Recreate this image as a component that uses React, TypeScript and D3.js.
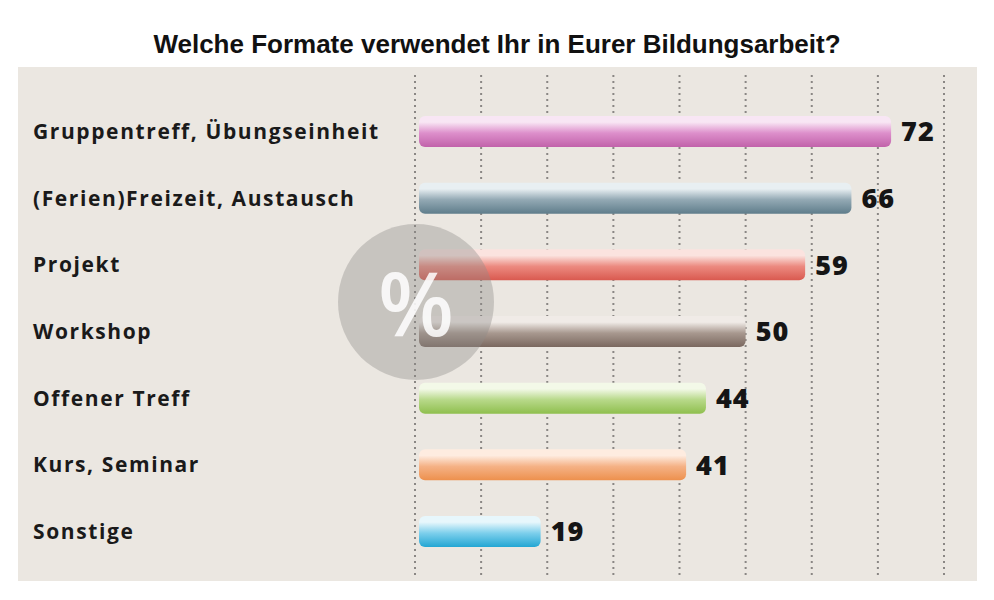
import * as d3 from "d3";

const categories = [
  "Gruppentreff, Übungseinheit",
  "(Ferien)Freizeit, Austausch",
  "Projekt",
  "Workshop",
  "Offener Treff",
  "Kurs, Seminar",
  "Sonstige",
];
const values = [72, 66, 59, 50, 44, 41, 19];
const gridTicks = [0, 10, 20, 30, 40, 50, 60, 70, 80];
// top / middle / bottom tones of each glossy bar
const barColors = [
  ["#f8e6f4", "#dd8fcb", "#c162aa"],
  ["#e8eff2", "#93a9b4", "#5f7d8b"],
  ["#fbe3df", "#ec8a80", "#d9594f"],
  ["#f0ebe7", "#a8988f", "#7a685f"],
  ["#f3f9e8", "#b8d98a", "#8fbf4e"],
  ["#feece0", "#f5b286", "#ed904d"],
  ["#e7f7fc", "#7dcfec", "#22a6d3"],
];

const title = "Welche Formate verwendet Ihr in Eurer Bildungsarbeit?";

export default function App() {
  const width = 994;
  const height = 600;
  const panel = { x: 18, y: 67, w: 959, h: 514 };

  const x = d3.scaleLinear().domain([0, 80]).range([415, 944]);
  const y = d3
    .scaleBand<string>()
    .domain(categories)
    .range([98, 565])
    .paddingInner(0.535)
    .paddingOuter(0.27);

  const barH = y.bandwidth();

  return (
    <svg
      width={width}
      height={height}
      style={{ position: "absolute", left: 0, top: 0 }}
    >
      <defs>
        {barColors.map((c, i) => (
          <linearGradient key={i} id={`bar${i}`} x1="0" y1="0" x2="0" y2="1">
            <stop offset="0" stopColor={c[0]} />
            <stop offset="0.2" stopColor={c[0]} />
            <stop offset="0.55" stopColor={c[1]} />
            <stop offset="1" stopColor={c[2]} />
          </linearGradient>
        ))}
      </defs>
      <rect width={width} height={height} fill="#ffffff" />
      <text
        x={497}
        y={53}
        textAnchor="middle"
        fontFamily="Liberation Sans, Arial, sans-serif"
        fontWeight="bold"
        fontSize={26}
        fill="#111"
      >
        {title}
      </text>
      <rect
        x={panel.x}
        y={panel.y}
        width={panel.w}
        height={panel.h}
        fill="#ebe7e1"
      />
      {/* dotted gridlines */}
      {gridTicks.map((t) => (
        <line
          key={t}
          x1={x(t)}
          x2={x(t)}
          y1={75}
          y2={575}
          stroke="#8a8784"
          strokeWidth={2}
          strokeDasharray="2 4"
        />
      ))}
      {categories.map((c, i) => {
        const yc = (y(c) ?? 0) + barH / 2;
        return (
          <g key={c}>
            <text
              x={33}
              y={yc}
              dy="0.35em"
              fontFamily="Open Sans, sans-serif"
              fontWeight="bold"
              fontSize={21}
              letterSpacing={1.6}
              fill="#1a1a1a"
            >
              {c}
            </text>
            <rect
              x={x(0) + 4}
              y={y(c)}
              width={x(values[i]) - x(0) - 4}
              height={barH}
              rx={6}
              fill={`url(#bar${i})`}
            />
            <text
              x={x(values[i]) + 10}
              y={yc}
              dy="0.36em"
              fontFamily="Open Sans, sans-serif"
              fontWeight={800}
              fontSize={27}
              letterSpacing={1}
              fill="#151515"
            >
              {values[i]}
            </text>
          </g>
        );
      })}
      {/* percent badge */}
      <circle cx={416} cy={302} r={78} fill="#8f8c88" fillOpacity={0.38} />
      <text
        x={416}
        y={304}
        dy="0.36em"
        textAnchor="middle"
        fontFamily="Open Sans, sans-serif"
        fontWeight={600}
        fontSize={88}
        fill="#ffffff"
        fillOpacity={0.85}
      >
        %
      </text>
    </svg>
  );
}
